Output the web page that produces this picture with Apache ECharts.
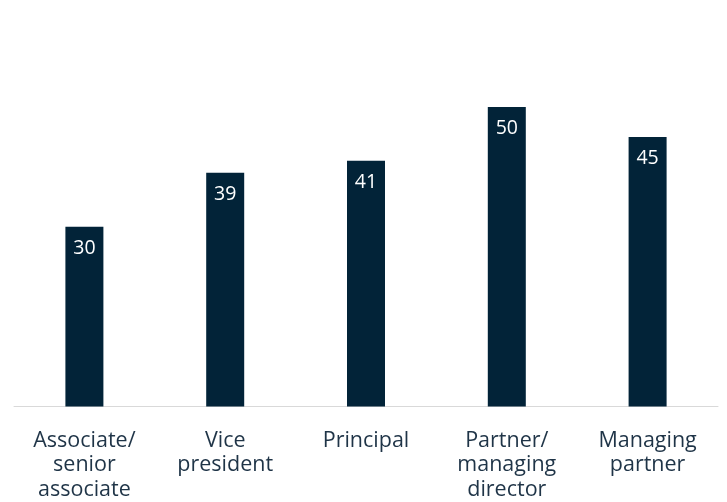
<!DOCTYPE html>
<html>
<head>
<meta charset="utf-8">
<script src="https://cdn.jsdelivr.net/npm/echarts@6/dist/echarts.min.js"></script>
<style>
  html, body { margin: 0; padding: 0; background: #ffffff; }
  #chart { width: 727px; height: 502px; }
</style>
</head>
<body>
<div id="chart"></div>
<script>
// Roles along the career ladder and their values
const categories = [
  'Associate/\nsenior\nassociate',
  'Vice\npresident',
  'Principal',
  'Partner/\nmanaging\ndirector',
  'Managing\npartner'
];
const values = [30, 39, 41, 50, 45];

const chart = echarts.init(document.getElementById('chart'), null, { renderer: 'canvas' });

chart.setOption({
  animation: false,
  backgroundColor: '#ffffff',
  grid: { left: 14, right: 9, top: 47, bottom: 92, containLabel: false },
  xAxis: {
    type: 'category',
    data: categories,
    axisLine: { show: true, lineStyle: { color: '#d9d9d9', width: 1 } },
    axisTick: { show: false },
    axisLabel: {
      interval: 0,
      margin: 22,
      color: '#1f3447',
      fontFamily: 'Open Sans',
      fontSize: 21.5,
      lineHeight: 24.5,
      align: 'center'
    }
  },
  yAxis: {
    type: 'value',
    min: 0,
    max: 60,
    show: false,
    splitLine: { show: false }
  },
  series: [{
    type: 'bar',
    data: values,
    barWidth: 38,
    itemStyle: { color: '#022338' },
    label: {
      show: true,
      position: 'insideTop',
      distance: 12,
      color: '#ffffff',
      fontFamily: 'Open Sans',
      fontSize: 19.5
    }
  }]
});
</script>
</body>
</html>
